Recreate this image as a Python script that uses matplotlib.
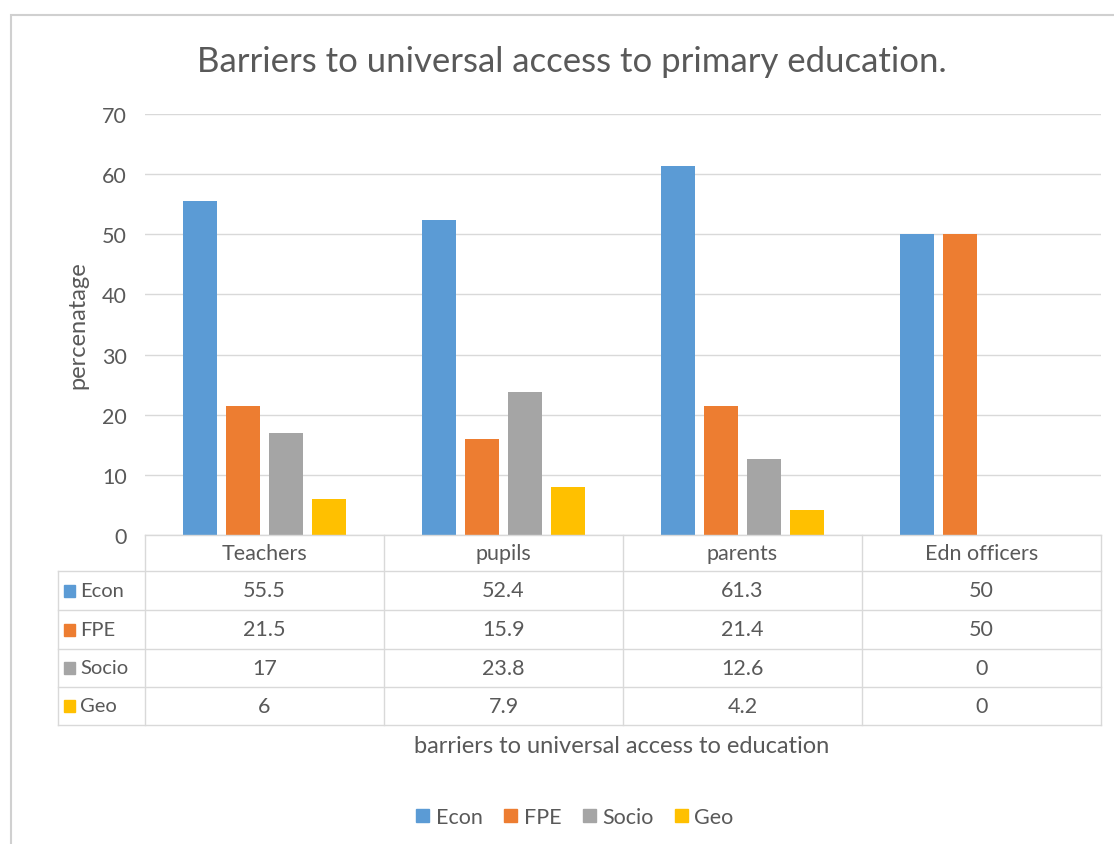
import numpy as np
import matplotlib
matplotlib.use("Agg")
import matplotlib.pyplot as plt
from matplotlib.patches import Rectangle
from matplotlib.lines import Line2D

categories = ["Teachers", "pupils", "parents", "Edn officers"]
series = ["Econ", "FPE", "Socio", "Geo"]
econ = [55.5, 52.4, 61.3, 50]
fpe = [21.5, 15.9, 21.4, 50]
socio = [17, 23.8, 12.6, 0]
geo = [6, 7.9, 4.2, 0]
values = [econ, fpe, socio, geo]
colors = ["#5B9BD5", "#ED7D31", "#A5A5A5", "#FFC000"]

W, H = 1114, 845
plt.rcParams['font.family'] = ['Lato', 'DejaVu Sans']
txt = "#595959"
grid = "#d9d9d9"

fig = plt.figure(figsize=(W / 100, H / 100), dpi=100)

def fx(x):
    return x / W

def fy(y):
    return 1 - y / H

# chart border (only top and left visible)
fig.add_artist(Rectangle((fx(11), fy(870)), fx(1130), fy(16) - fy(870),
                         transform=fig.transFigure, fill=False,
                         edgecolor="#d0d0d0", lw=1.5))

left, right, top, bottom = 145, 1101, 115, 536
ax = fig.add_axes([fx(left), fy(bottom), fx(right - left), fy(top) - fy(bottom)])

x = np.arange(len(categories))
bw = 0.142
step = 0.18
for i, (name, vals) in enumerate(zip(series, values)):
    ax.bar(x + (i - 1.5) * step, vals, width=bw, color=colors[i], label=name, zorder=3)

ax.set_xlim(-0.5, len(categories) - 0.5)
ax.set_ylim(0, 70)
ax.set_yticks(range(0, 71, 10))
ax.tick_params(axis='y', length=0, labelsize=15.5, labelcolor=txt, pad=13)
ax.set_xticks([])
ax.grid(axis='y', color=grid, lw=1, zorder=0)
for s in ax.spines.values():
    s.set_visible(False)
ax.set_ylabel("percenatage", fontsize=17, color=txt, labelpad=10)

# data table
col_x = [left + (right - left) * k / 4 for k in range(5)]
row_y = [536, 572, 611, 650, 688, 726]
tl = 58
lk = dict(transform=fig.transFigure, color=grid, lw=1)
fig.add_artist(Line2D([fx(left), fx(right)], [fy(row_y[0])] * 2, **lk))
for yy in row_y[1:]:
    fig.add_artist(Line2D([fx(tl), fx(right)], [fy(yy)] * 2, **lk))
for xx in col_x:
    fig.add_artist(Line2D([fx(xx)] * 2, [fy(row_y[0]), fy(row_y[-1])], **lk))
fig.add_artist(Line2D([fx(tl)] * 2, [fy(row_y[1]), fy(row_y[-1])], **lk))

for j, cat in enumerate(categories):
    cx = (col_x[j] + col_x[j + 1]) / 2
    fig.text(fx(cx), fy((row_y[0] + row_y[1]) / 2), cat, ha='center', va='center',
             fontsize=15.5, color=txt)
for i, name in enumerate(series):
    cy = (row_y[i + 1] + row_y[i + 2]) / 2
    fig.add_artist(Rectangle((fx(64), fy(cy + 6)), fx(11), fy(cy - 6) - fy(cy + 6),
                             transform=fig.transFigure, color=colors[i]))
    fig.text(fx(80), fy(cy), name, ha='left', va='center', fontsize=14.5, color=txt)
    for j in range(len(categories)):
        cx = (col_x[j] + col_x[j + 1]) / 2
        fig.text(fx(cx), fy(cy), f"{values[i][j]:g}", ha='center', va='center',
                 fontsize=15.5, color=txt)

fig.text(fx(622), fy(747), "barriers to universal access to education", ha='center',
         va='center', fontsize=17, color=txt)
fig.text(fx(572), fy(62), "Barriers to universal access to primary education.",
         ha='center', va='center', fontsize=25, color=txt)

handles = [Rectangle((0, 0), 1, 1, color=c) for c in colors]
fig.legend(handles, series, loc='center', bbox_to_anchor=(fx(575), fy(818)), ncol=4,
           frameon=False, fontsize=15.5, labelcolor=txt, handlelength=0.6,
           handleheight=0.6, handletextpad=0.3, columnspacing=1.0)

fig.savefig("out.png", dpi=100, facecolor="white")
